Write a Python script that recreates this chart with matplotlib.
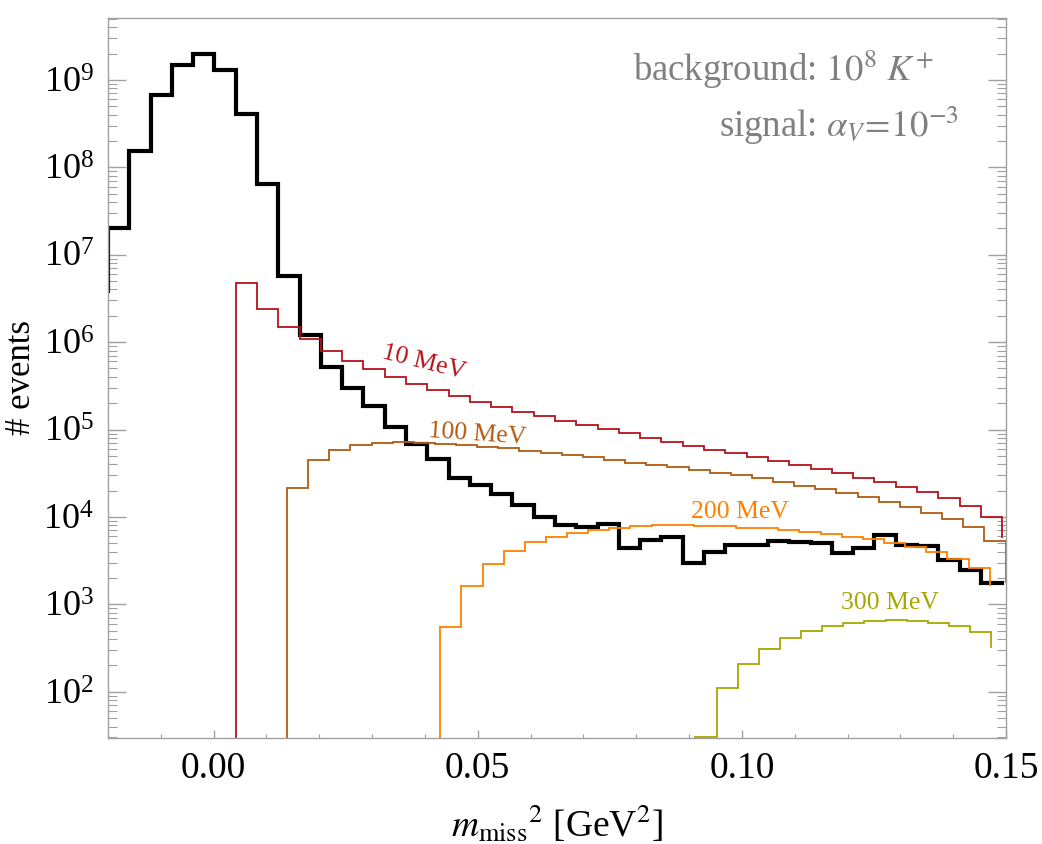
import numpy as np
import matplotlib
matplotlib.use("Agg")
import matplotlib.pyplot as plt
from matplotlib.ticker import MultipleLocator, LogLocator, LogFormatterMathtext, NullFormatter, FormatStrFormatter

plt.rcParams['font.family'] = ['Liberation Serif', 'DejaVu Serif']
plt.rcParams['mathtext.fontset'] = 'stix'

# histogram data: [level before first bin] + bin counts + [level after last bin]
bg_x0, bg_w = -0.02, 0.00403
bg_counts = [3.8e6,
             2.0e7, 1.55e8, 6.7e8, 1.46e9, 1.97e9, 1.28e9, 4.06e8, 6.4e7, 5.7e6, 1.19e6,
             5.25e5, 2.97e5, 1.86e5, 1.08e5, 6.9e4, 4.6e4, 2.8e4, 2.3e4, 1.85e4, 1.36e4,
             1.0e4, 8.0e3, 7.7e3, 8.2e3, 4.4e3, 5.4e3, 5.9e3, 3.0e3, 4.0e3, 4.8e3,
             4.8e3, 5.3e3, 5.2e3, 5.0e3, 3.85e3, 4.4e3, 6.2e3, 4.8e3, 4.6e3, 3.2e3,
             2.5e3, 1.76e3,
             1.76e3]

sig10_x0, sig10_w = 0.00418, 0.00403
sig10_counts = [1.0,
                4.72e6, 2.4e6, 1.5e6, 1.08e6, 8.0e5, 6.1e5, 4.9e5, 4.0e5, 3.3e5, 2.84e5,
                2.42e5, 2.09e5, 1.83e5, 1.6e5, 1.43e5, 1.26e5, 1.13e5, 1.01e5, 9.07e4, 8.07e4,
                7.27e4, 6.5e4, 5.85e4, 5.36e4, 4.82e4, 4.37e4, 3.94e4, 3.54e4, 3.16e4, 2.82e4,
                2.54e4, 2.22e4, 1.95e4, 1.64e4, 1.34e4, 1.01e4,
                5.96e3]

sig100_x0, sig100_w = 0.0139, 0.004
sig100_counts = [1.0,
                 2.16e4, 4.49e4, 5.85e4, 6.67e4, 7.1e4, 7.2e4, 6.97e4, 6.8e4, 6.7e4, 6.3e4,
                 6.1e4, 5.74e4, 5.45e4, 5.13e4, 4.82e4, 4.49e4, 4.19e4, 3.94e4, 3.7e4, 3.45e4,
                 3.21e4, 3.03e4, 2.77e4, 2.54e4, 2.28e4, 2.07e4, 1.87e4, 1.68e4, 1.5e4, 1.31e4,
                 1.12e4, 9.5e3, 7.6e3, 5.3e3,
                 1.78e3]

sig200_x0, sig200_w = 0.0429, 0.004
sig200_counts = [1.0,
                 545, 1.64e3, 2.91e3, 4.09e3, 5.12e3, 5.94e3, 6.59e3, 7.06e3, 7.57e3, 7.84e3,
                 8.05e3, 8.05e3, 7.98e3, 7.84e3, 7.57e3, 7.38e3, 7.06e3, 6.65e3, 6.31e3, 5.94e3,
                 5.53e3, 5.08e3, 4.57e3, 4.02e3, 3.29e3, 2.6e3,
                 1.68e3]

sig300_x0, sig300_w = 0.0912, 0.004
sig300_counts = [1.0,
                 30.5, 110, 209, 310, 408, 500, 569, 620, 648, 665,
                 648, 620, 569, 478,
                 324]

series_labels = ['10 MeV', '100 MeV', '200 MeV', '300 MeV']
label_pos = [(0.0398, 5.9e5, -14), (0.0499, 8.9e4, -4), (0.0997, 1.15e4, 0), (0.128, 1.03e3, 0)]
colors = ['#b5121b', '#b35a10', '#ff8000', '#a5a800']
x_ticks = [0.0, 0.05, 0.10, 0.15]
y_ticks = [1e2, 1e3, 1e4, 1e5, 1e6, 1e7, 1e8, 1e9]


def draw_hist(ax, x0, w, levels, color, lw):
    n = len(levels) - 2
    xs = x0 + w * np.r_[0, np.arange(n + 1)]
    ax.plot(xs, levels, drawstyle='steps-post', color=color, lw=lw,
            solid_joinstyle='miter')


fig = plt.figure(figsize=(10.42, 8.44), dpi=100)
ax = fig.add_axes([0.1036, 0.1256, 0.8619, 0.8531])

draw_hist(ax, bg_x0, bg_w, bg_counts, 'black', 3.0)
signals = [(sig10_x0, sig10_w, sig10_counts), (sig100_x0, sig100_w, sig100_counts),
           (sig200_x0, sig200_w, sig200_counts), (sig300_x0, sig300_w, sig300_counts)]
for (x0, w, c), col in zip(signals, colors):
    draw_hist(ax, x0, w, c, col, 1.3)

for lab, (lx, ly, rot), col in zip(series_labels, label_pos, colors):
    ax.text(lx, ly, lab, color=col, fontsize=18.5, rotation=rot,
            ha='center', va='center', rotation_mode='anchor')

ax.set_yscale('log')
ax.set_xlim(-0.02, 0.15)
ax.set_ylim(29.6, 5.1e9)

ax.set_xticks(x_ticks)
ax.xaxis.set_minor_locator(MultipleLocator(0.01))
ax.xaxis.set_major_formatter(FormatStrFormatter('%.2f'))
ax.set_yticks(y_ticks)
ax.yaxis.set_minor_locator(LogLocator(base=10, subs=np.arange(2, 10), numticks=20))
ax.yaxis.set_major_formatter(LogFormatterMathtext())
ax.yaxis.set_minor_formatter(NullFormatter())

tc = '#a0a0a0'
ax.tick_params(axis='y', which='major', direction='in', length=13, width=1,
               color=tc, left=True, right=True, labelsize=26, pad=10)
ax.tick_params(axis='y', which='minor', direction='in', length=6.5, width=0.8,
               color=tc, left=True, right=True)
ax.tick_params(axis='x', which='major', direction='in', length=6, width=1,
               color=tc, bottom=True, top=False, labelsize=27, pad=10)
ax.tick_params(axis='x', which='minor', direction='in', length=3, width=0.8,
               color=tc, bottom=True, top=False)
for sp in ax.spines.values():
    sp.set_color(tc)
    sp.set_linewidth(1)

ax.set_xlabel(r'$m_{\mathrm{miss}}{}^{2}$ [GeV$^{2}$]', fontsize=27, labelpad=12)
ax.set_ylabel('# events', fontsize=25)
ax.yaxis.set_label_coords(-0.078, 0.5)

ax.text(0.919, 0.928, r'background: $10^{8}$ $K^{+}$', transform=ax.transAxes,
        ha='right', va='center', fontsize=26.5, color='#808080')
ax.text(0.947, 0.85, r'signal: $\alpha_V\!=\!10^{-3}$', transform=ax.transAxes,
        ha='right', va='center', fontsize=26.5, color='#808080')

fig.savefig('out.png', dpi=100)
